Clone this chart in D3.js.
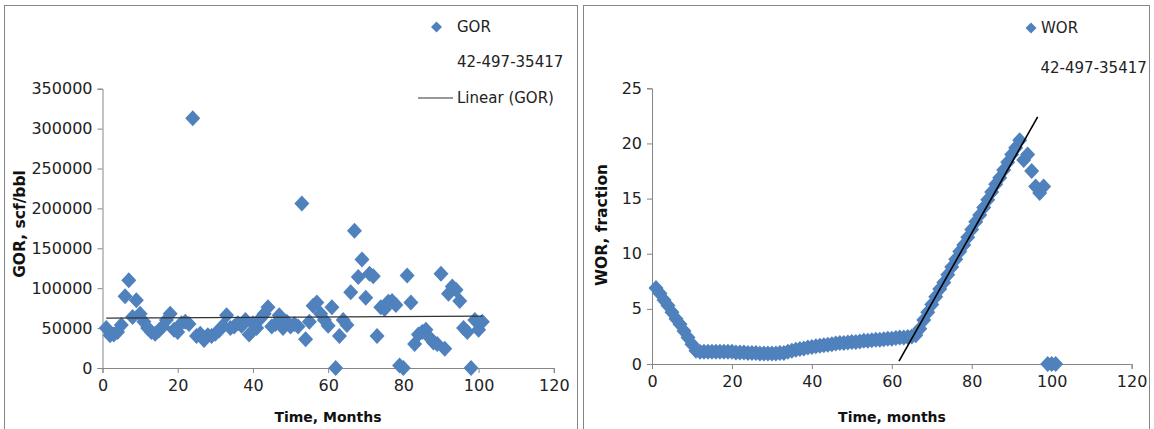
<!DOCTYPE html>
<html>
<head>
<meta charset="utf-8">
<script src="https://cdn.jsdelivr.net/npm/d3@7"></script>
<style>
  body { margin: 0; background: #fff; }
  .tick text { font-family: "DejaVu Sans", sans-serif; fill: #222; }
</style>
</head>
<body>
<div id="chart"></div>
<script>
// months 1..101
var months = d3.range(1, 102);

// GOR, scf/bbl
var gorValues = [
  50000, 41000, 42000, 45000, 54000, 90000, 110000, 64000, 85000, 68000,
  58000, 50000, 45000, 43000, 47000, 52000, 60000, 68000, 48000, 45000,
  56000, 58000, 55000, 313000, 40000, 43000, 35000, 41000, 40000, 43000,
  47000, 53000, 66000, 50000, 52000, 56000, 53000, 60000, 42000, 56000,
  50000, 62000, 68000, 76000, 52000, 55000, 66000, 50000, 58000, 52000,
  55000, 52000, 206000, 36000, 58000, 78000, 82000, 68000, 60000, 53000,
  76000, 0, 40000, 60000, 54000, 95000, 172000, 114000, 136000, 88000,
  118000, 115000, 40000, 76000, 74000, 83000, 84000, 79000, 3000, 0,
  116000, 82000, 30000, 42000, 45000, 48000, 38000, 32000, 30000, 118000,
  24000, 93000, 102000, 98000, 84000, 50000, 45000, 0, 60000, 48000,
  58000
];
// Linear (GOR) trend end points
var gorTrend = [[1, 62500], [101, 65000]];

// WOR, fraction
var worValues = [
  6.9, 6.4, 5.8, 5.3, 4.7, 4.1, 3.6, 3.0, 2.4, 1.8,
  1.2, 1.1, 1.1, 1.1, 1.1, 1.1, 1.1, 1.1, 1.1, 1.1,
  1.05, 1.05, 1.05, 1.0, 1.0, 1.0, 0.95, 0.95, 0.95, 0.95,
  0.95, 1.0, 1.0, 1.1, 1.2, 1.3, 1.35, 1.4, 1.5, 1.55,
  1.6, 1.65, 1.7, 1.75, 1.8, 1.85, 1.9, 1.9, 1.95, 2.0,
  2.0, 2.05, 2.1, 2.1, 2.15, 2.2, 2.2, 2.25, 2.3, 2.3,
  2.35, 2.4, 2.4, 2.45, 2.5, 2.6, 3.2, 4.0, 4.7, 5.4,
  6.1, 6.8, 7.4, 8.1, 8.8, 9.5, 10.2, 10.8, 11.5, 12.2,
  12.9, 13.5, 14.2, 14.9, 15.6, 16.3, 16.9, 17.6, 18.3, 19.0,
  19.6, 20.3, 18.5, 19.0, 17.5, 16.1, 15.5, 16.1, 0, 0,
  0
];
var worTrend = [[61.8, 0.27], [96.5, 22.4]];

var xTicks = [0, 20, 40, 60, 80, 100, 120];
var gorTicks = [0, 50000, 100000, 150000, 200000, 250000, 300000, 350000];
var worTicks = [0, 5, 10, 15, 20, 25];

var blue = "#4F81BD";
var axisGray = "#868686";
var diamond = "M0,-8L7.5,0L0,8L-7.5,0Z";
var smallDiamond = "M0,-5.5L5.5,0L0,5.5L-5.5,0Z";

var svg = d3.select("#chart").append("svg")
    .attr("width", 1154)
    .attr("height", 429);

svg.append("rect").attr("width", 1154).attr("height", 429).attr("fill", "#fff");

// panel frames
svg.append("rect").attr("x", 4.5).attr("y", 5.5).attr("width", 573).attr("height", 440)
    .attr("fill", "none").attr("stroke", axisGray);
svg.append("rect").attr("x", 583.5).attr("y", 5.5).attr("width", 566).attr("height", 440)
    .attr("fill", "none").attr("stroke", axisGray);

function drawAxes(g, x, y, yTicks) {
    var xa = g.append("g")
        .attr("transform", "translate(0," + y.range()[0] + ")")
        .call(d3.axisBottom(x).tickValues(xTicks).tickSizeOuter(0).tickSize(5).tickPadding(7));
    var ya = g.append("g")
        .attr("transform", "translate(" + x.range()[0] + ",0)")
        .call(d3.axisLeft(y).tickValues(yTicks).tickFormat(d3.format("d")).tickSizeOuter(0).tickSize(5).tickPadding(5));
    [xa, ya].forEach(function(a) {
        a.select(".domain").attr("stroke", axisGray);
        a.selectAll(".tick line").attr("stroke", axisGray);
        a.selectAll(".tick text").style("font-size", "16px");
    });
}

// ---------- left: GOR ----------
var x1 = d3.scaleLinear().domain([0, 120]).range([102.5, 553.8]);
var y1 = d3.scaleLinear().domain([0, 350000]).range([368, 88.7]);
var g1 = svg.append("g");
drawAxes(g1, x1, y1, gorTicks);

g1.append("g").selectAll("path")
    .data(months.map(function(m, i) { return [m, gorValues[i]]; }))
    .enter().append("path")
    .attr("d", diamond)
    .attr("transform", function(d) { return "translate(" + x1(d[0]) + "," + y1(d[1]) + ")"; })
    .attr("fill", blue);

g1.append("path")
    .datum(gorTrend)
    .attr("d", d3.line().x(function(d) { return x1(d[0]); }).y(function(d) { return y1(d[1]); }))
    .attr("stroke", "#333").attr("stroke-width", 1.2).attr("fill", "none");

// legend
g1.append("path").attr("d", smallDiamond).attr("transform", "translate(436.5,27)").attr("fill", blue);
g1.append("text").attr("x", 457).attr("y", 27).attr("dy", "0.35em").text("GOR");
g1.append("text").attr("x", 457).attr("y", 62).attr("dy", "0.35em").text("42-497-35417");
g1.append("line").attr("x1", 418).attr("x2", 453).attr("y1", 98).attr("y2", 98)
    .attr("stroke", "#333").attr("stroke-width", 1.2);
g1.append("text").attr("x", 457).attr("y", 98).attr("dy", "0.35em").text("Linear (GOR)");

g1.append("text").attr("class", "title ytitle")
    .attr("transform", "translate(20,224)rotate(-90)")
    .attr("text-anchor", "middle").attr("dy", "0.35em")
    .text("GOR, scf/bbl");
g1.append("text").attr("class", "title")
    .attr("x", 328).attr("y", 417).attr("text-anchor", "middle").attr("dy", "0.35em")
    .text("Time, Months");

// ---------- right: WOR ----------
var x2 = d3.scaleLinear().domain([0, 120]).range([652, 1131.6]);
var y2 = d3.scaleLinear().domain([0, 25]).range([364, 88.3]);
var g2 = svg.append("g");
drawAxes(g2, x2, y2, worTicks);

g2.append("g").selectAll("path")
    .data(months.map(function(m, i) { return [m, worValues[i]]; }))
    .enter().append("path")
    .attr("d", diamond)
    .attr("transform", function(d) { return "translate(" + x2(d[0]) + "," + y2(d[1]) + ")"; })
    .attr("fill", blue);

g2.append("path")
    .datum(worTrend)
    .attr("d", d3.line().x(function(d) { return x2(d[0]); }).y(function(d) { return y2(d[1]); }))
    .attr("stroke", "#000").attr("stroke-width", 1.6).attr("fill", "none");

g2.append("path").attr("d", smallDiamond).attr("transform", "translate(1031,28)").attr("fill", blue);
g2.append("text").attr("x", 1041).attr("y", 28).attr("dy", "0.35em").text("WOR");
g2.append("text").attr("x", 1040.5).attr("y", 68).attr("dy", "0.35em").text("42-497-35417");

g2.append("text").attr("class", "title ytitle")
    .attr("transform", "translate(602,225)rotate(-90)")
    .attr("text-anchor", "middle").attr("dy", "0.35em")
    .text("WOR, fraction");
g2.append("text").attr("class", "title")
    .attr("x", 892).attr("y", 417).attr("text-anchor", "middle").attr("dy", "0.35em")
    .text("Time, months");

svg.selectAll("text:not(.title)").filter(function() { return !this.closest(".tick"); })
    .style("font-family", "'DejaVu Sans', sans-serif").style("font-size", "15px").attr("fill", "#222");
svg.selectAll("text.title")
    .style("font-family", "'DejaVu Sans', sans-serif").style("font-size", "14px")
    .style("font-weight", "bold").attr("fill", "#111");
svg.selectAll("text.ytitle").style("font-size", "15.5px");
</script>
</body>
</html>
